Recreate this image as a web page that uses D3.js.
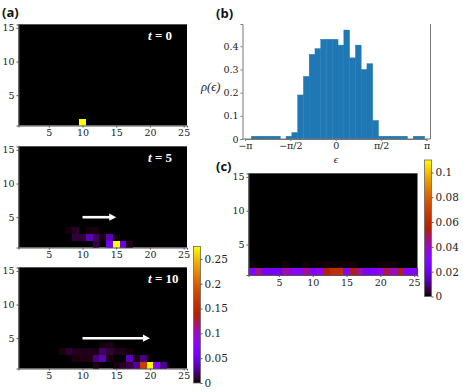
<!DOCTYPE html>
<meta charset="utf-8">
<style>
body { margin: 0; background: #fff; }
svg { display: block; }
.axis text { font: 9.5px "DejaVu Serif", serif; fill: #222; }
.axis path, .axis line { stroke: #555; }
.hist path, .hist line { stroke: #777; }
.cbar text { font-size: 10.5px; }
.panel { font: bold 13px "Open Sans", sans-serif; fill: #111; }
.time { font: bold 13px "Liberation Serif", serif; fill: #fff; }
.lab { font: italic 12.5px "Liberation Serif", serif; fill: #222; }
</style>
<svg width="463" height="392"></svg>
<script src="https://d3js.org/d3.v7.min.js"></script>
<script>

// rows of the density maps, lowest row first (y = 1, 2, ...), 25 columns each
var t0Row1 = [0,0,0,0,0,0,0,0,0,.275,0,0,0,0,0,0,0,0,0,0,0,0,0,0,0];

var t5Row1 = [0,0,0,0,0,0,0,0,0,0,0,.012,0,.055,.275,.05,.004,0,0,0,0,0,0,0,0];
var t5Row2 = [0,0,0,0,0,0,0,0,.01,.01,.035,.016,.003,.035,.002,0,0,0,0,0,0,0,0,0,0];
var t5Row3 = [0,0,0,0,0,0,0,.002,.007,0,.002,.003,0,0,0,0,0,0,0,0,0,0,0,0,0];

var t10Row1 = [0,0,0,0,0,0,0,0,0,0,0,.004,0,0,.002,.007,.012,.028,.17,.275,.075,.025,0,0,0];
var t10Row2 = [0,0,0,0,0,0,0,0,.003,.004,.004,.022,.035,.003,0,0,.035,.004,.022,.001,0,0,0,0,0];
var t10Row3 = [0,0,0,0,0,0,.003,.01,.005,.005,.005,.003,.018,.01,.004,.004,.002,0,0,0,0,0,0,0,0];
var t10Row4 = [0,0,0,0,0,0,0,0,0,0,0,0,.002,.004,0,0,0,0,0,0,0,0,0,0,0];

var avgRow1 = [.028,.045,.024,.024,.024,.042,.033,.033,.045,.028,.033,.055,.062,.062,.028,.052,.042,.024,.028,.035,.05,.04,.052,.03,.028];
var avgRow2 = [.0005,0,0,0,0,.0005,0,0,.0005,0,.0004,.0005,.0005,.0005,.0005,.0005,0,0,0,.0004,.0005,.0005,0,0,0];

// histogram of epsilon: first bin edge, bin width, heights
var binStart = -2.92;
var binWidth = 0.2;
var histValues = [.012,.012,.012,.012,.012,0,.012,.028,.19,.27,.365,.39,.43,.43,.43,.405,.47,.35,.405,.30,.325,.08,.012,.012,.012,.012,.012,0,.012,.012];

var mapXTicks = [5, 10, 15, 20, 25];
var mapYTicks = [5, 10, 15];
var histXTicks = [-Math.PI, -Math.PI / 2, 0, Math.PI / 2, Math.PI];
var histXLabels = ["\u2212\u03c0", "\u2212\u03c0/2", "0", "\u03c0/2", "\u03c0"];
var histYTicks = [0, .1, .2, .3, .4];
var cbarTicksA = [0, .05, .1, .15, .2, .25];
var cbarTicksC = [0, .02, .04, .06, .08, .1];

var svg = d3.select("svg");

// matplotlib "gnuplot" colormap
function gnuplot(t) {
  var r = Math.sqrt(t), g = t * t * t, b = Math.max(0, Math.sin(2 * Math.PI * t));
  return d3.rgb(r * 255, g * 255, b * 255).formatHex();
}

var colorA = d3.scaleSequential(gnuplot).domain([0, .275]);
var colorC = d3.scaleSequential(gnuplot).domain([0, .11]);

function drawMap(box, rows, color, arrowEnd, label) {
  var x = d3.scaleLinear().domain([.5, 25.5]).range([box.left, box.right]);
  var y = d3.scaleLinear().domain([.5, 15.5]).range([box.bottom, box.top]);

  svg.append("rect")
      .attr("x", box.left).attr("y", box.top)
      .attr("width", box.right - box.left).attr("height", box.bottom - box.top)
      .attr("fill", color(0));

  rows.forEach(function(row, i) {
    svg.append("g").selectAll("rect")
        .data(row.map(function(v, j) { return {col: j + 1, row: i + 1, v: v}; }).filter(function(d) { return d.v > 0; }))
      .enter().append("rect")
        .attr("x", function(d) { return x(d.col - .5); })
        .attr("y", function(d) { return y(d.row + .5); })
        .attr("width", x(1.5) - x(.5))
        .attr("height", y(.5) - y(1.5))
        .attr("shape-rendering", "crispEdges")
        .attr("fill", function(d) { return color(d.v); });
  });

  svg.append("g").attr("class", "axis")
      .attr("transform", "translate(0," + box.bottom + ")")
      .call(d3.axisBottom(x).tickValues(mapXTicks).tickSize(2).tickPadding(2));
  svg.append("g").attr("class", "axis")
      .attr("transform", "translate(" + box.left + ",0)")
      .call(d3.axisLeft(y).tickValues(mapYTicks).tickSize(2).tickPadding(2));
  svg.append("path")
      .attr("d", "M" + box.left + "," + box.top + "H" + box.right)
      .attr("stroke", "#555").attr("fill", "none");

  if (arrowEnd) {
    svg.append("line")
        .attr("x1", x(10)).attr("x2", x(arrowEnd) - 5)
        .attr("y1", y(5)).attr("y2", y(5))
        .attr("stroke", "#fff").attr("stroke-width", 2.6);
    svg.append("path")
        .attr("d", d3.line()([[x(arrowEnd), y(5)], [x(arrowEnd) - 7, y(5) - 3.6], [x(arrowEnd) - 7, y(5) + 3.6]]))
        .attr("fill", "#fff");
  }

  if (label) {
    var t = svg.append("text").attr("class", "time")
        .attr("x", 148).attr("y", box.top + 15.5);
    t.append("tspan").attr("font-style", "italic").text("t");
    t.append("tspan").text(" = " + label);
  }
}

function drawColorbar(box, color, ticks, id) {
  var y = d3.scaleLinear().domain(color.domain()).range([box.bottom, box.top]);
  var grad = svg.append("defs").append("linearGradient")
      .attr("id", id).attr("x1", 0).attr("x2", 0).attr("y1", 1).attr("y2", 0);
  grad.selectAll("stop").data(d3.range(0, 1.001, .02))
    .enter().append("stop")
      .attr("offset", function(d) { return d; })
      .attr("stop-color", function(d) { return gnuplot(d); });

  svg.append("rect")
      .attr("x", box.left).attr("y", box.top)
      .attr("width", box.right - box.left).attr("height", box.bottom - box.top)
      .attr("fill", "url(#" + id + ")")
      .attr("stroke", "#666").attr("stroke-width", .8);

  var axis = svg.append("g").attr("class", "axis cbar")
      .attr("transform", "translate(" + box.right + ",0)")
      .call(d3.axisRight(y).tickValues(ticks).tickSize(2).tickPadding(2).tickFormat(d3.format("~g")));
  axis.select(".domain").remove();
}

// panel (a)
drawMap({left: 18.5, right: 187, top: 24.5, bottom: 125.5}, [t0Row1], colorA, null, "0");
drawMap({left: 18.5, right: 187, top: 146.5, bottom: 247.5}, [t5Row1, t5Row2, t5Row3], colorA, 15, "5");
drawMap({left: 18.5, right: 187, top: 267.5, bottom: 368.5}, [t10Row1, t10Row2, t10Row3, t10Row4], colorA, 20, "10");
drawColorbar({left: 193.5, right: 200.5, top: 246.5, bottom: 383}, colorA, cbarTicksA, "gradA");

// panel (b)
var hx = d3.scaleLinear().domain([-Math.PI, Math.PI]).range([245, 426.5]);
var hy = d3.scaleLinear().domain([0, .496]).range([139, 24]);

svg.append("g").selectAll("rect")
    .data(histValues)
  .enter().append("rect")
    .attr("x", function(d, i) { return hx(binStart + i * binWidth); })
    .attr("width", hx(binWidth) - hx(0))
    .attr("y", function(d) { return hy(d); })
    .attr("height", function(d) { return hy(0) - hy(d); })
    .attr("fill", "#1f77b4")
    .attr("stroke", "#1f77b4")
    .attr("stroke-width", .4);

svg.append("g").attr("class", "axis hist")
    .attr("transform", "translate(0,139)")
    .call(d3.axisBottom(hx).tickValues(histXTicks).tickSize(2).tickPadding(1)
      .tickFormat(function(d, i) { return histXLabels[i]; }));
svg.append("path")
    .attr("d", "M242.5,139H430.5")
    .attr("stroke", "#777").attr("fill", "none");
svg.append("g").attr("class", "axis hist")
    .attr("transform", "translate(242.5,0)")
    .call(d3.axisLeft(hy).tickValues(histYTicks).tickSize(2).tickPadding(2).tickFormat(d3.format("~g")));
svg.append("path")
    .attr("d", "M430.5,24V139")
    .attr("stroke", "#777").attr("fill", "none");

svg.append("text").attr("class", "lab").attr("x", 336).attr("y", 163).attr("text-anchor", "middle").style("font-size", "11px").text("\u03f5");
svg.append("text").attr("class", "lab").attr("x", 201).attr("y", 91).text("\u03c1(\u03f5)");

// panel (c)
drawMap({left: 248.5, right: 417.5, top: 173.5, bottom: 275}, [avgRow1, avgRow2], colorC, null, null);
drawColorbar({left: 424.5, right: 431.5, top: 160, bottom: 296.5}, colorC, cbarTicksC, "gradC");

svg.append("text").attr("class", "panel").attr("x", 2).attr("y", 17).text("(a)");
svg.append("text").attr("class", "panel").attr("x", 216).attr("y", 18).text("(b)");
svg.append("text").attr("class", "panel").attr("x", 216).attr("y", 171).text("(c)");

</script>
